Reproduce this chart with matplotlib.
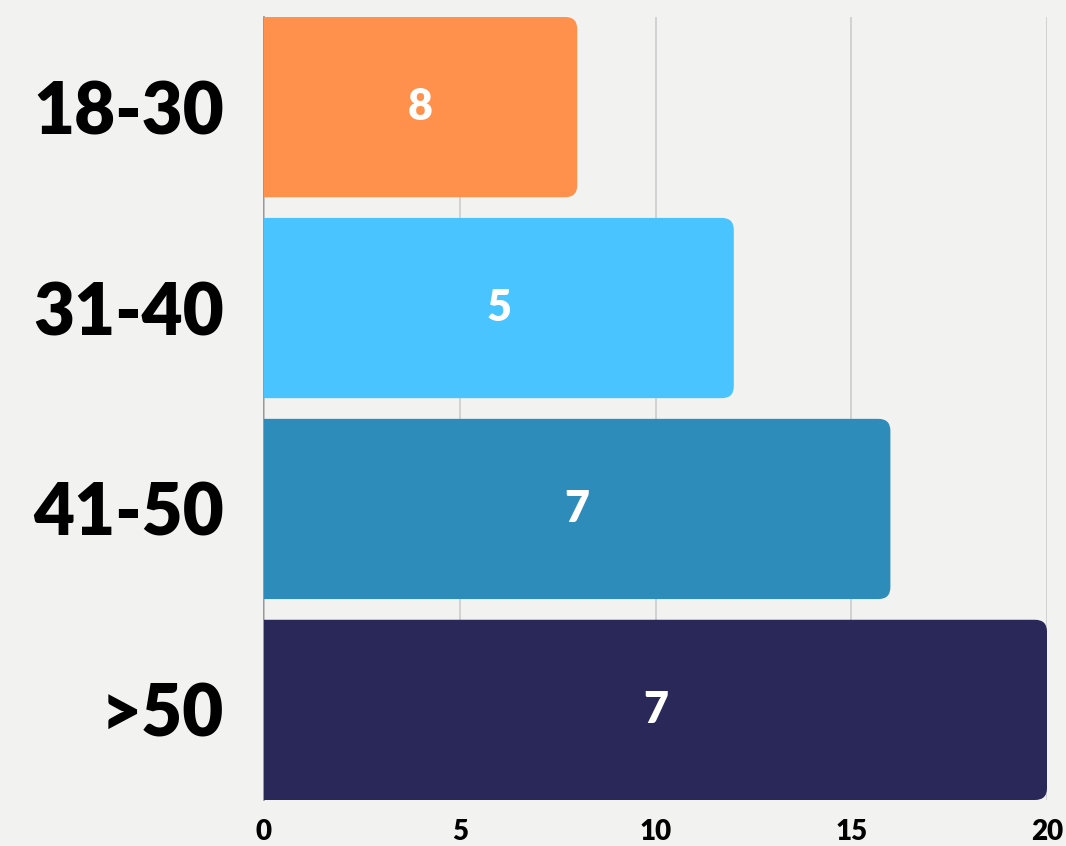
import matplotlib
matplotlib.use("Agg")
import matplotlib.pyplot as plt
from matplotlib.patches import FancyBboxPatch

categories = ["18-30", "31-40", "41-50", ">50"]
bar_lengths = [8, 12, 16, 20]
bar_labels = ["8", "5", "7", "7"]
colors = ["#FF914D", "#4AC4FF", "#2E8CBA", "#2A2859"]
xticks = [0, 5, 10, 15, 20]

BG = "#F2F2F0"
FONT = ["Lato", "DejaVu Sans"]

fig = plt.figure(figsize=(10.66, 8.46), dpi=100, facecolor=BG)
ax = fig.add_axes([264 / 1066, 46 / 846, (1047 - 264) / 1066, (800 - 17) / 846])
ax.set_facecolor(BG)

ypos = list(range(len(categories)))
bars = ax.barh(ypos, bar_lengths, height=0.897, color=colors, zorder=2)
ax.set_xlim(0, 20)
ax.set_ylim(3.4485, -0.4485)

# convert to rounded bars
fig.canvas.draw()
p0 = ax.transData.transform((0, 0))
p1 = ax.transData.transform((1, 1))
px_x = abs(p1[0] - p0[0])
px_y = abs(p1[1] - p0[1])
aspect = px_x / px_y
r = 12 / px_x
for rect, c in zip(bars.patches, colors):
    x, y = rect.get_x(), rect.get_y()
    w, h = rect.get_width(), rect.get_height()
    rect.set_visible(False)
    fb = FancyBboxPatch((x - 1, y), w + 1, h,
                        boxstyle=f"round,pad=0,rounding_size={r}",
                        mutation_aspect=aspect, facecolor=c, edgecolor="none",
                        zorder=2, clip_on=True)
    ax.add_patch(fb)

for yp, w, lab in zip(ypos, bar_lengths, bar_labels):
    ax.text(w / 2, yp, lab, ha="center", va="center", color="white",
            fontsize=31, fontweight="heavy", family=FONT, zorder=3)

ax.set_yticks(ypos)
ax.set_yticklabels(categories, fontsize=51, fontweight="heavy", family=FONT, color="black")
ax.set_xticks(xticks)
ax.set_xticklabels([str(t) for t in xticks], fontsize=20, fontweight="heavy", family=FONT, color="black")
ax.tick_params(axis="y", length=0, pad=29)
ax.tick_params(axis="x", length=0, pad=14)

ax.grid(axis="x", color="#CCCCCC", linewidth=1.2, zorder=0)
ax.grid(axis="y", visible=False)
for s in ["top", "right", "bottom"]:
    ax.spines[s].set_visible(False)
ax.spines["left"].set_color("#888888")
ax.spines["left"].set_linewidth(1.2)
ax.spines["left"].set_zorder(1)

fig.savefig("out.png", dpi=100, facecolor=BG)
